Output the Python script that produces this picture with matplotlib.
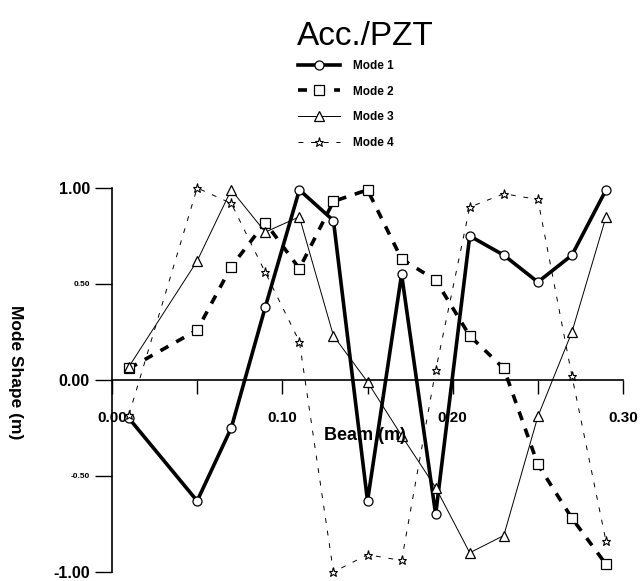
import numpy as np
import matplotlib.pyplot as plt
from matplotlib.lines import Line2D

# beam positions (m)
BEAM_X = [0.01, 0.05, 0.07, 0.09, 0.11, 0.13, 0.15, 0.17, 0.19, 0.21, 0.23, 0.25, 0.27, 0.29]

MODE_1 = [-0.20, -0.63, -0.25, 0.38, 0.99, 0.83, -0.63, 0.55, -0.70, 0.75, 0.65, 0.51, 0.65, 0.99]
MODE_2 = [0.06, 0.26, 0.59, 0.82, 0.58, 0.93, 0.99, 0.63, 0.52, 0.23, 0.06, -0.44, -0.72, -0.96]
MODE_3 = [0.07, 0.62, 0.99, 0.77, 0.85, 0.23, -0.01, -0.29, -0.56, -0.90, -0.81, -0.19, 0.25, 0.85]
MODE_4 = [-0.18, 1.00, 0.92, 0.56, 0.20, -1.00, -0.91, -0.94, 0.05, 0.90, 0.97, 0.94, 0.02, -0.84]

LABELS = ['Mode 1', 'Mode 2', 'Mode 3', 'Mode 4']

X_TICKS = [0.00, 0.05, 0.10, 0.15, 0.20, 0.25, 0.30]
X_TICK_LABELS = ['0.00', '', '0.10', '', '0.20', '', '0.30']
Y_TICKS = [-1.0, -0.5, 0.0, 0.5, 1.0]
Y_TICK_LABELS = ['-1.00', '-0.50', '0.00', '0.50', '1.00']

plt.rcParams['font.family'] = ['Liberation Sans', 'DejaVu Sans']

fig = plt.figure(figsize=(6.41, 5.81), dpi=100)
ax = fig.add_axes([0.1747, 0.0155, 0.7973, 0.661])

styles = [
    dict(color='black', lw=2.6, ls='-', marker='o', ms=6.5, mew=0.9),
    dict(color='black', lw=2.6, ls=(0, (2.5, 2.5)), marker='s', ms=7, mew=0.9),
    dict(color='black', lw=0.7, ls='-', marker='^', ms=7, mew=0.9),
    dict(color='black', lw=0.7, ls=(0, (5, 8)), marker='*', ms=6.5, mew=0.8),
]
series = [MODE_1, MODE_2, MODE_3, MODE_4]
for vals, st, lab in zip(series, styles, LABELS):
    ax.plot(BEAM_X, vals, mfc='white', mec='black', clip_on=False, label=lab, **st)

ax.set_xlim(0, 0.30)
ax.set_ylim(-1.0, 1.0)

ax.spines['top'].set_visible(False)
ax.spines['right'].set_visible(False)
ax.spines['bottom'].set_position(('data', 0))
ax.spines['bottom'].set_linewidth(1.2)
ax.spines['left'].set_linewidth(1.2)

ax.set_xticks(X_TICKS)
ax.set_xticklabels(X_TICK_LABELS, fontsize=11, fontweight='bold')
ax.tick_params(axis='x', direction='out', length=10, width=1, pad=12)
ax.set_yticks(Y_TICKS)
ax.set_yticklabels(Y_TICK_LABELS, fontweight='bold')
for lbl in ax.get_yticklabels():
    lbl.set_fontsize(6 if lbl.get_text() in ('0.50', '-0.50') else 11.5)
ax.tick_params(axis='y', direction='out', length=12, width=1, pad=4)

ax.text(0.1247, -0.29, 'Beam (m)', fontsize=13, fontweight='bold', ha='left', va='center')
fig.text(0.024, 0.36, 'Mode Shape (m)', rotation=270, fontsize=12.5,
         fontweight='bold', ha='center', va='center')

fig.text(0.57, 0.937, 'Acc./PZT', fontsize=24, ha='center', va='center')

handles = [Line2D([0], [0], mfc='white', mec='black', **st) for st in styles]
fig.legend(handles, LABELS, loc='upper left', bbox_to_anchor=(0.448, 0.915),
           frameon=False, prop={'size': 8.5, 'weight': 'bold'},
           handlelength=3.6, labelspacing=1.15, handletextpad=1.1)

fig.savefig('out.png', dpi=100)
